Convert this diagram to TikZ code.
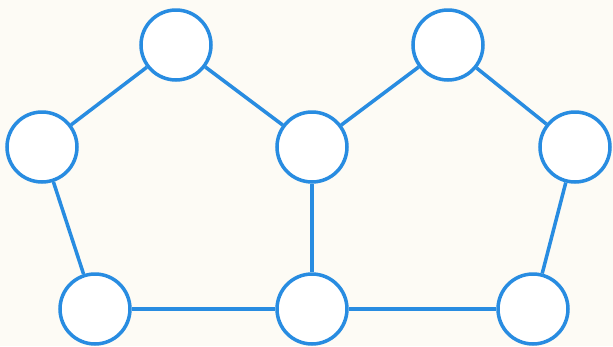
\documentclass[tikz,border=0pt]{standalone}
\usepackage{xcolor}
\usepackage{tikz}
\definecolor{ringblue}{RGB}{40,140,225}
\definecolor{paper}{RGB}{253,251,245}

\begin{document}
\begin{tikzpicture}[x=0.02cm,y=-0.02cm,
  ring/.style={circle, draw=ringblue, line width=2pt, fill=white, minimum size=1.4cm, inner sep=0pt},
  bond/.style={draw=ringblue, line width=2pt}]
\fill[paper] (0,0) rectangle (613,346);
\useasboundingbox (0,0) rectangle (613,346);
% upper row
\node[ring] (tl) at (176,45) {};
\node[ring] (tr) at (448,45) {};
% middle row
\node[ring] (l) at (42,147) {};
\node[ring] (m) at (312,147) {};
\node[ring] (r) at (575,147) {};
% lower row
\node[ring] (bl) at (95,309) {};
\node[ring] (bm) at (312,309) {};
\node[ring] (br) at (533,309) {};
\draw[bond] (tl) -- (l);
\draw[bond] (tl) -- (m);
\draw[bond] (m) -- (tr);
\draw[bond] (tr) -- (r);
\draw[bond] (l) -- (bl);
\draw[bond] (m) -- (bm);
\draw[bond] (r) -- (br);
\draw[bond] (bl) -- (bm);
\draw[bond] (bm) -- (br);
\end{tikzpicture}
\end{document}
